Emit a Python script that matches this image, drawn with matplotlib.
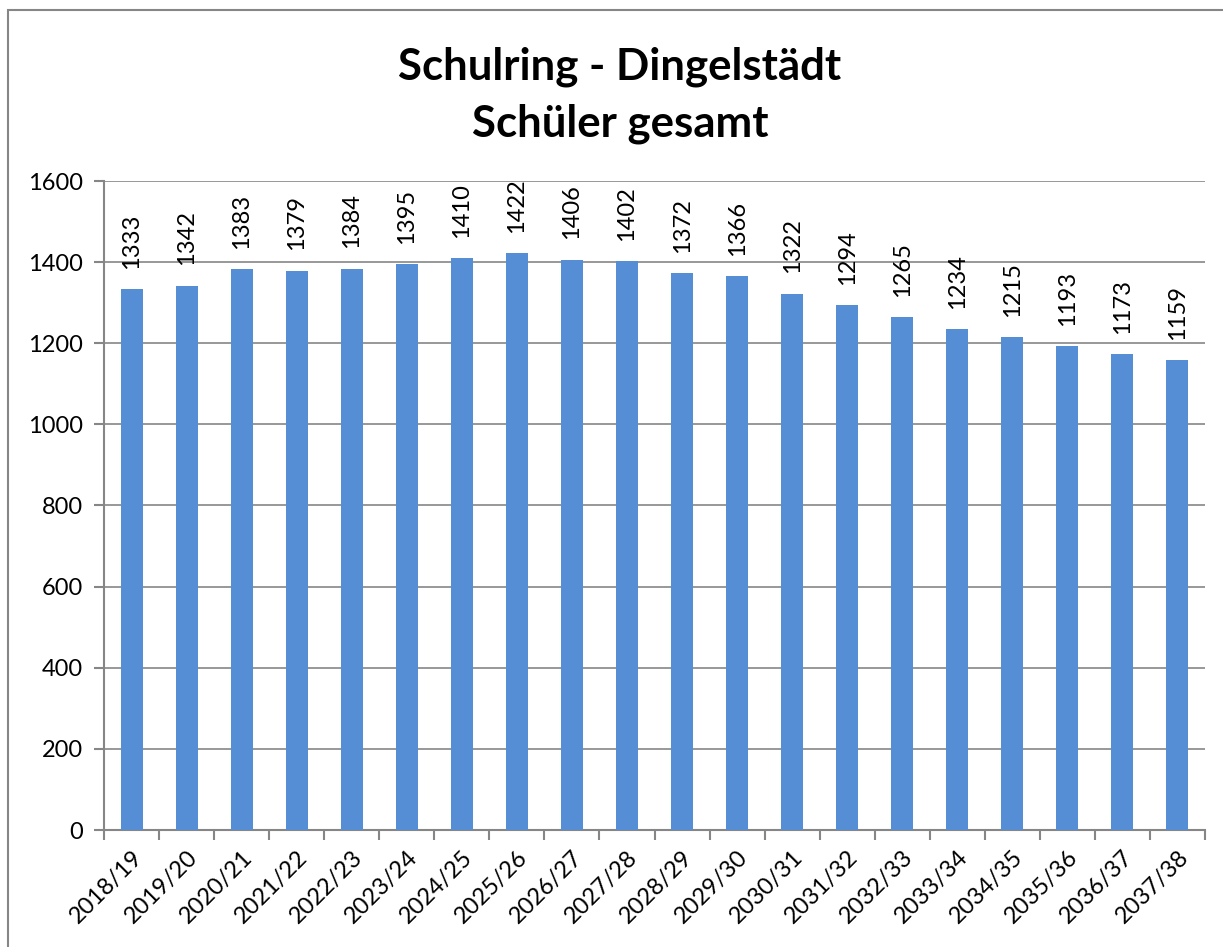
import matplotlib
matplotlib.use("Agg")
import matplotlib.pyplot as plt
from matplotlib.patches import Rectangle

categories = ["2018/19", "2019/20", "2020/21", "2021/22", "2022/23", "2023/24", "2024/25",
              "2025/26", "2026/27", "2027/28", "2028/29", "2029/30", "2030/31", "2031/32",
              "2032/33", "2033/34", "2034/35", "2035/36", "2036/37", "2037/38"]
values = [1333, 1342, 1383, 1379, 1384, 1395, 1410, 1422, 1406, 1402, 1372, 1366, 1322,
          1294, 1265, 1234, 1215, 1193, 1173, 1159]
yticks = [0, 200, 400, 600, 800, 1000, 1200, 1400, 1600]
title = "Schulring - Dingelstädt\nSchüler gesamt"

plt.rcParams['font.family'] = ['Lato', 'DejaVu Sans']
W, H = 1223, 947
fig = plt.figure(figsize=(W/100, H/100), dpi=100)
ax = fig.add_axes([104/W, 1-830/H, (1205-104)/W, (830-181)/H])

grey = "#868686"
x = list(range(len(categories)))
ax.bar(x, values, width=0.4, color="#558ED5", zorder=3)
for xi, v in zip(x, values):
    ax.text(xi, v + 50, str(v), rotation=90, ha="center", va="bottom", fontsize=17, zorder=4)

ax.set_xlim(-0.5, len(categories) - 0.5)
ax.set_ylim(0, 1600)
ax.set_yticks(yticks)
ax.set_yticklabels([str(t) for t in yticks], fontsize=17)
ax.yaxis.grid(True, color=grey, linewidth=1.2, zorder=0)
ax.set_xticks(x)
ax.set_xticklabels(categories, rotation=45, ha="right", rotation_mode="anchor", fontsize=17)
ax.tick_params(axis="x", length=0, pad=12)
ax.set_xticks([i - 0.5 for i in range(len(categories) + 1)], minor=True)
ax.tick_params(axis="x", which="minor", length=7, width=1.5, color=grey)
ax.tick_params(axis="y", length=7, width=1.5, color=grey, pad=8)
for s in ["top", "right"]:
    ax.spines[s].set_visible(False)
for s in ["left", "bottom"]:
    ax.spines[s].set_color(grey)
    ax.spines[s].set_linewidth(1.5)

fig.text(620/W, 1-95/H, title, ha="center", va="center", fontsize=31.5, fontweight="bold", linespacing=1.5)

fig.patches.append(Rectangle((8/W, -0.1), 1.2, 1 - 10/H + 0.1, transform=fig.transFigure,
                             fill=False, edgecolor=grey, linewidth=1.5))

fig.savefig("out.png", dpi=100)
